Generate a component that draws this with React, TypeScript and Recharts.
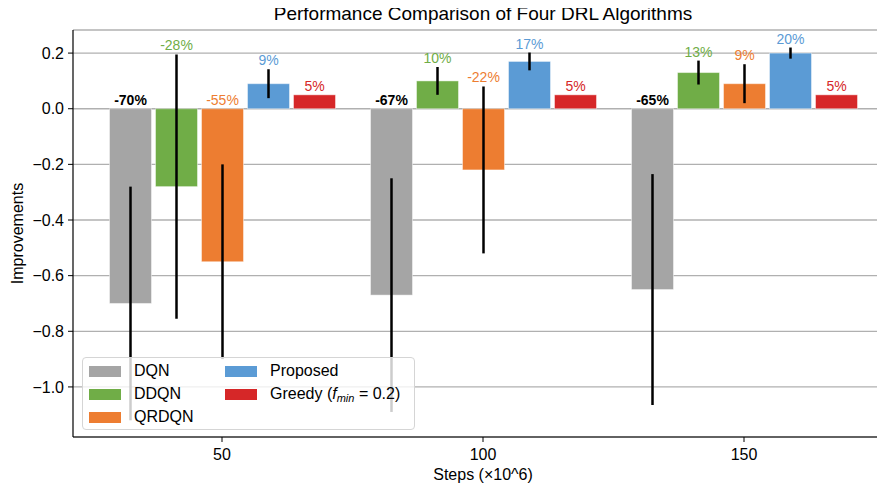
import React from 'react';
import { ComposedChart, Bar, XAxis, YAxis, CartesianGrid, ErrorBar } from 'recharts';

const steps = ['50', '100', '150'];
const dqn = [-0.7, -0.67, -0.65];
const dqnErr = [0.42, 0.42, 0.415];
const ddqn = [-0.28, 0.1, 0.13];
const ddqnErr = [0.475, 0.05, 0.043];
const qrdqn = [-0.55, -0.22, 0.09];
const qrdqnErr = [0.35, 0.3, 0.07];
const proposed = [0.09, 0.17, 0.2];
const proposedErr = [0.052, 0.032, 0.02];
const greedy = [0.05, 0.05, 0.05];
const yTicks = [0.2, 0.0, -0.2, -0.4, -0.6, -0.8, -1.0];

const FONT = '"Liberation Sans", Arial, sans-serif';

const series = [
  { key: 'dqn', err: 'dqnErr', name: 'DQN', color: '#a5a5a5', text: '#000000', bold: true },
  { key: 'ddqn', err: 'ddqnErr', name: 'DDQN', color: '#70ad47', text: '#70ad47', bold: false },
  { key: 'qrdqn', err: 'qrdqnErr', name: 'QRDQN', color: '#ed7d31', text: '#ed7d31', bold: false },
  { key: 'proposed', err: 'proposedErr', name: 'Proposed', color: '#5b9bd5', text: '#5b9bd5', bold: false },
  { key: 'greedy', err: null, name: 'Greedy', color: '#d62728', text: '#d62728', bold: false },
];

const data = steps.map((s, i) => ({
  step: s,
  dqn: dqn[i],
  dqnErr: dqnErr[i],
  ddqn: ddqn[i],
  ddqnErr: ddqnErr[i],
  qrdqn: qrdqn[i],
  qrdqnErr: qrdqnErr[i],
  proposed: proposed[i],
  proposedErr: proposedErr[i],
  greedy: greedy[i],
}));

// bar + percentage label sitting above max(0, value + err)
function makeShape(key: string, errKey: string | null, fill: string, textColor: string, bold: boolean) {
  return (props: any) => {
    const { x, y, width, height, payload } = props;
    const v = payload[key];
    const e = errKey ? payload[errKey] : 0;
    const top = Math.min(y, y + height);
    const bottom = Math.max(y, y + height);
    const ppu = Math.abs(v) > 0 ? (bottom - top) / Math.abs(v) : 0;
    const zero = v >= 0 ? bottom : top;
    const ly = zero - Math.max(0, v + e) * ppu - 4;
    return (
      <g>
        <rect x={x} y={top} width={width} height={bottom - top} fill={fill} stroke="#ffffff" strokeOpacity={0.45} strokeWidth={1} />
        <text
          x={x + width / 2}
          y={ly}
          textAnchor="middle"
          fill={textColor}
          fontSize={14}
          fontWeight={bold ? 700 : 400}
          fontFamily={FONT}
        >
          {Math.round(v * 100)}%
        </text>
      </g>
    );
  };
}

const fmtTick = (v: number) => v.toFixed(1).replace('-', '\u2212');

function LegendBox() {
  return (
    <div
      style={{
        position: 'absolute',
        left: 82,
        top: 357,
        width: 333,
        height: 73,
        boxSizing: 'border-box',
        border: '1px solid #d5d5d5',
        borderRadius: 4,
        background: 'rgba(255,255,255,0.8)',
        fontSize: 16,
        color: '#000',
      }}
    >
      {series.map((s, i) => {
        const row = i % 3;
        const col = Math.floor(i / 3);
        const top = 7 + row * 23;
        return (
          <div key={s.key}>
            <div
              style={{
                position: 'absolute',
                left: col === 0 ? 6 : 142,
                top: top + 1,
                width: 32,
                height: 11,
                background: s.color,
              }}
            />
            <div
              style={{
                position: 'absolute',
                left: col === 0 ? 51 : 187,
                top: top - 4,
                lineHeight: '20px',
                whiteSpace: 'nowrap',
              }}
            >
              {s.key === 'greedy' ? (
                <span>
                  Greedy (<i>f</i>
                  <sub style={{ fontSize: 11, fontStyle: 'italic', verticalAlign: '-3px' }}>min</sub> = 0.2)
                </span>
              ) : (
                s.name
              )}
            </div>
          </div>
        );
      })}
    </div>
  );
}

export default function App() {
  return (
    <div
      style={{
        position: 'relative',
        margin: -8,
        width: 885,
        height: 491,
        overflow: 'hidden',
        background: '#fff',
        fontFamily: FONT,
      }}
    >
      <div
        style={{
          position: 'absolute',
          left: 73,
          width: 820,
          top: 3,
          textAlign: 'center',
          fontSize: 19,
          lineHeight: '22px',
          color: '#000',
        }}
      >
        Performance Comparison of Four DRL Algorithms
      </div>
      <ComposedChart
        width={905}
        height={491}
        data={data}
        margin={{ top: 30, right: 12, bottom: 0, left: 0 }}
        barSize={42}
        barGap={4}
      >
        <CartesianGrid vertical={false} stroke="#b0b0b0" strokeWidth={1.3} />
        <XAxis
          dataKey="step"
          height={54}
          padding={{ left: 18.5, right: 18.5 }}
          axisLine={{ stroke: '#000', strokeWidth: 1.2 }}
          tickLine={{ stroke: '#000' }}
          tickSize={5}
          tickMargin={7}
          tick={{ fill: '#000', fontSize: 16, fontFamily: FONT }}
          label={(p: any) => {
            const vb = p.viewBox;
            return (
              <text x={vb.x + vb.width / 2} y={vb.y + 43} textAnchor="middle" fontSize={16} fontFamily={FONT} fill="#000">
                Steps (×10^6)
              </text>
            );
          }}
        />
        <XAxis
          xAxisId="top"
          dataKey="step"
          orientation="top"
          height={0}
          tick={false}
          tickLine={false}
          axisLine={{ stroke: '#000', strokeWidth: 1.2 }}
        />
        <YAxis
          width={73}
          type="number"
          domain={[-1.18, 0.283]}
          allowDataOverflow
          ticks={yTicks}
          tickFormatter={fmtTick}
          axisLine={{ stroke: '#000', strokeWidth: 1.2 }}
          tickLine={{ stroke: '#000' }}
          tickSize={5}
          tickMargin={4}
          tick={{ fill: '#000', fontSize: 16, fontFamily: FONT }}
          label={(p: any) => {
            const vb = p.viewBox;
            const cy = vb.y + vb.height / 2;
            return (
              <text
                x={17}
                y={cy}
                transform={`rotate(-90, 17, ${cy})`}
                textAnchor="middle"
                dominantBaseline="central"
                fontSize={16}
                fontFamily={FONT}
                fill="#000"
              >
                Improvements
              </text>
            );
          }}
        />
        {series.map((s) => (
          <Bar
            key={s.key}
            dataKey={s.key}
            name={s.name}
            fill={s.color}
            isAnimationActive={false}
            shape={makeShape(s.key, s.err, s.color, s.text, s.bold)}
          >
            {s.err ? (
              <ErrorBar dataKey={s.err} direction="y" width={0} stroke="#000" strokeWidth={2.5} />
            ) : null}
          </Bar>
        ))}
      </ComposedChart>
      <LegendBox />
    </div>
  );
}
